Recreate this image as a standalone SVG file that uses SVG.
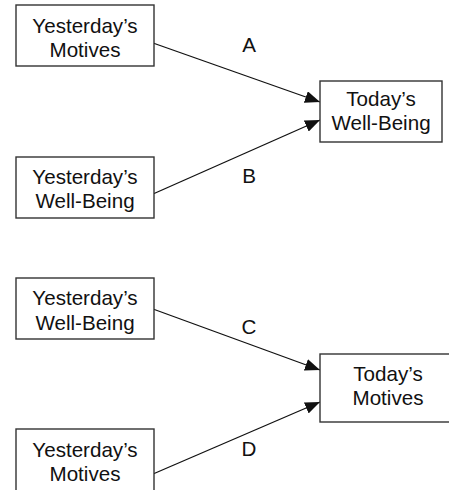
<svg xmlns="http://www.w3.org/2000/svg" width="449" height="490" viewBox="0 0 449 490">
<style>
.box{fill:#fff;stroke:#333;stroke-width:1.4}
.t{font-family:"Liberation Sans",Arial,sans-serif;font-size:20.6px;fill:#111;text-anchor:middle}
.edge{stroke:#111;stroke-width:1.3;fill:none;marker-end:url(#ah)}
</style>
<defs>
<marker id="ah" markerUnits="userSpaceOnUse" markerWidth="16" markerHeight="12" refX="15" refY="6" orient="auto">
<path d="M0,0 L15,6 L0,12 Z" fill="#111"/>
</marker>
</defs>
<rect width="449" height="490" fill="#fff"/>
<g id="edges">
<line class="edge" x1="153" y1="43" x2="320" y2="102"/>
<line class="edge" x1="153" y1="194" x2="320" y2="120"/>
<line class="edge" x1="153" y1="309" x2="320" y2="370"/>
<line class="edge" x1="153" y1="474" x2="320" y2="402"/>
<text class="t" x="249" y="52">A</text>
<text class="t" x="249" y="183">B</text>
<text class="t" x="249" y="334">C</text>
<text class="t" x="249" y="456">D</text>
</g>
<g id="y_motives_1">
<rect class="box" x="16" y="5" width="138" height="61"/>
<text class="t" x="85" y="33">Yesterday’s</text>
<text class="t" x="85" y="57">Motives</text>
</g>
<g id="y_wellbeing_1">
<rect class="box" x="16" y="157" width="138" height="61"/>
<text class="t" x="85" y="184">Yesterday’s</text>
<text class="t" x="85" y="208">Well-Being</text>
</g>
<g id="t_wellbeing">
<rect class="box" x="320" y="81" width="122" height="61"/>
<text class="t" x="381" y="106">Today’s</text>
<text class="t" x="381" y="130">Well-Being</text>
</g>
<g id="y_wellbeing_2">
<rect class="box" x="16" y="278" width="138" height="61"/>
<text class="t" x="85" y="305">Yesterday’s</text>
<text class="t" x="85" y="330">Well-Being</text>
</g>
<g id="y_motives_2">
<rect class="box" x="16" y="429" width="138" height="70"/>
<text class="t" x="85" y="457">Yesterday’s</text>
<text class="t" x="85" y="481">Motives</text>
</g>
<g id="t_motives">
<rect class="box" x="320" y="354" width="136" height="68"/>
<text class="t" x="388" y="381">Today’s</text>
<text class="t" x="388" y="405">Motives</text>
</g>
</svg>
